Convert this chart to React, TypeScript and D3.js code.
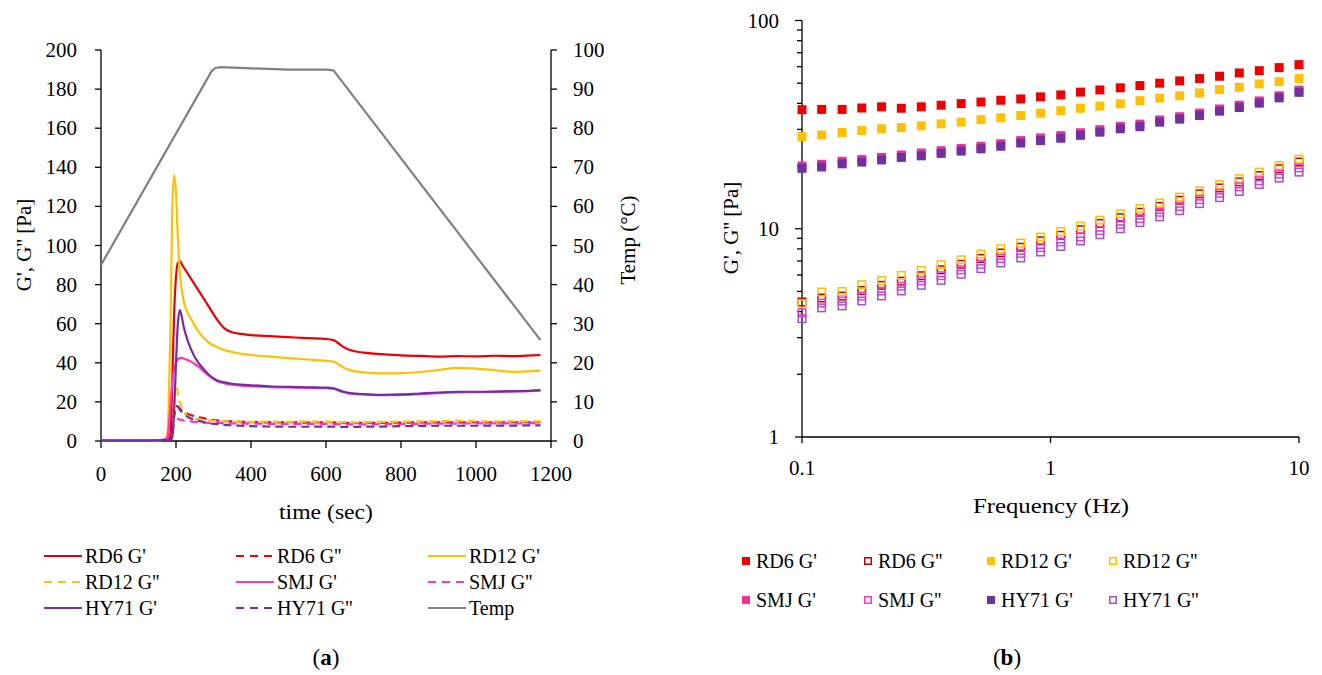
import React from 'react'
import * as d3 from 'd3'

// ---- (a) temperature sweep ----
const times = [0, 50, 100, 150, 165, 175, 180, 185, 190, 195, 200, 205, 210, 215, 220, 230, 240, 250, 260, 275, 290, 310, 330, 350, 375, 400, 450, 500, 550, 600, 620, 630, 645, 660, 680, 700, 750, 800, 850, 900, 950, 1000, 1050, 1100, 1150, 1172]

const rd6G1 = [0.3, 0.3, 0.3, 0.4, 0.5, 0.6, 0.8, 2, 30, 65, 84, 91, 92, 90.6, 89, 86, 83, 80, 77, 72.5, 68, 62, 57.5, 55.6, 54.8, 54.2, 53.6, 53.1, 52.6, 52.2, 51.6, 50.4, 48.3, 46.8, 45.8, 45.2, 44.4, 43.8, 43.5, 43.2, 43.4, 43.3, 43.6, 43.4, 43.8, 44.0]
const rd12G1 = [0.2, 0.2, 0.2, 0.3, 0.6, 2, 15, 55, 118, 136, 127, 104, 87, 78, 72, 66, 62.5, 59, 56, 52.5, 50, 48, 46.5, 45.5, 44.6, 44, 43.2, 42.4, 41.7, 41, 40.6, 39.6, 37.8, 36.4, 35.6, 35.1, 34.6, 34.7, 35.3, 36.3, 37.4, 37, 36.2, 35.4, 35.7, 36]
const smjG1 = [0.3, 0.3, 0.3, 0.4, 0.6, 1.2, 5, 18, 30, 37, 40, 41.8, 42.4, 42.5, 42.2, 41.5, 40.6, 39.4, 38, 35.5, 33, 30.6, 29.5, 28.8, 28.3, 28, 27.6, 27.4, 27.2, 27, 26.8, 26.1, 25.1, 24.4, 24, 23.8, 23.4, 23.6, 24, 24.5, 24.9, 25, 25.1, 25.3, 25.6, 25.8]
const hy71G1 = [0.2, 0.2, 0.2, 0.3, 0.4, 0.5, 0.6, 0.8, 2, 15, 40, 60, 67, 64, 59, 52, 47, 43, 40, 36.5, 33.5, 31, 30, 29.3, 28.8, 28.5, 28, 27.7, 27.5, 27.3, 27, 26.3, 25.3, 24.6, 24.2, 24, 23.6, 23.8, 24.3, 24.8, 25.2, 25.2, 25.3, 25.5, 25.8, 26]
const rd6G2 = [0.1, 0.1, 0.1, 0.1, 0.2, 0.3, 0.4, 0.6, 8, 15, 18, 17.6, 16.6, 15.8, 15.1, 14, 13.2, 12.7, 12.2, 11.6, 11, 10.5, 10.2, 10, 9.8, 9.7, 9.5, 9.6, 9.4, 9.6, 9.5, 9.4, 9.3, 9.2, 9.2, 9.3, 9.3, 9.4, 9.5, 9.5, 9.5, 9.6, 9.5, 9.6, 9.6, 9.7]
const rd12G2 = [0.1, 0.1, 0.1, 0.2, 0.3, 0.8, 2, 5, 15, 28, 30, 24, 20, 17, 15, 13, 12, 11.5, 11.1, 10.8, 10.5, 10.3, 10.1, 10, 9.9, 9.8, 9.9, 9.8, 10, 9.9, 9.8, 9.7, 9.6, 9.5, 9.5, 9.6, 9.8, 9.9, 10, 10.1, 10.3, 10.2, 10, 10.1, 10, 10]
const smjG2 = [0.1, 0.1, 0.1, 0.2, 0.3, 0.8, 2, 7, 10.5, 11.2, 11.3, 11.2, 11, 10.8, 10.5, 10.2, 10, 9.8, 9.6, 9.4, 9.3, 9.2, 9.1, 9, 8.9, 8.9, 8.8, 8.8, 8.8, 8.8, 8.7, 8.6, 8.5, 8.5, 8.5, 8.5, 8.6, 8.7, 8.8, 8.9, 8.9, 9, 9, 9, 9.1, 9.1]
const hy71G2 = [0.1, 0.1, 0.1, 0.1, 0.2, 0.2, 0.2, 0.3, 2, 12, 17, 17.5, 16, 15, 14, 12.5, 11.5, 10.8, 10.3, 9.6, 9, 8.6, 8.2, 8, 7.8, 7.6, 7.4, 7.3, 7.3, 7.4, 7.4, 7.3, 7.2, 7.2, 7.2, 7.3, 7.4, 7.6, 7.7, 7.8, 7.8, 7.8, 7.9, 7.9, 8, 8]

const tempTimes = [0, 295, 305, 320, 400, 500, 600, 620, 1172]
const tempValues = [45, 94.6, 95.4, 95.6, 95.3, 95.0, 95.0, 94.8, 25.8]

const leftTicks = [0, 20, 40, 60, 80, 100, 120, 140, 160, 180, 200]
const tempTicks = [0, 10, 20, 30, 40, 50, 60, 70, 80, 90, 100]
const timeTicks = [0, 200, 400, 600, 800, 1000, 1200]

// ---- (b) frequency sweep ----
const freqs = [0.1, 0.12, 0.145, 0.174, 0.209, 0.251, 0.302, 0.363, 0.437, 0.525, 0.631, 0.759, 0.912, 1.1, 1.32, 1.58, 1.91, 2.29, 2.75, 3.31, 3.98, 4.79, 5.75, 6.92, 8.32, 10]

const fRd6G1 = [37.3, 37.4, 37.4, 38.0, 38.5, 37.9, 38.5, 39.2, 39.9, 40.6, 41.4, 42.0, 43.0, 43.9, 45.3, 46.4, 47.5, 48.7, 50.0, 51.3, 52.6, 54.0, 56.0, 57.4, 59.4, 61.4]
const fRd6G2 = [4.45, 4.65, 4.75, 5.05, 5.35, 5.6, 5.95, 6.35, 6.75, 7.2, 7.65, 8.15, 8.75, 9.3, 9.9, 10.6, 11.3, 12.0, 12.8, 13.7, 14.7, 15.7, 16.8, 18.0, 19.4, 20.9]
const fRd12G1 = [27.7, 28.2, 29.0, 29.6, 30.2, 30.6, 31.2, 31.9, 32.5, 33.4, 34.1, 35.0, 35.9, 36.9, 37.9, 38.8, 39.8, 41.2, 42.4, 43.5, 44.9, 46.6, 47.8, 49.6, 50.9, 52.6]
const fRd12G2 = [4.37, 4.97, 5.0, 5.39, 5.65, 5.97, 6.31, 6.72, 7.1, 7.56, 8.02, 8.54, 9.12, 9.7, 10.3, 11.0, 11.8, 12.5, 13.3, 14.2, 15.2, 16.3, 17.4, 18.7, 20.1, 21.6]
const fSmjG1 = [20.0, 20.4, 21.1, 21.5, 22.0, 22.6, 23.1, 23.7, 24.3, 24.9, 25.6, 26.5, 27.3, 28.0, 28.9, 29.9, 31.0, 31.8, 33.3, 34.5, 35.9, 37.6, 39.2, 41.1, 43.5, 46.3]
const fSmjG2 = [3.95, 4.4, 4.5, 4.75, 5.02, 5.3, 5.63, 5.95, 6.35, 6.75, 7.2, 7.62, 8.12, 8.65, 9.15, 9.8, 10.5, 11.2, 12.0, 12.8, 13.8, 14.8, 15.9, 17.0, 18.3, 19.6]
const fHy71G1 = [19.5, 19.8, 20.5, 20.9, 21.4, 22.0, 22.4, 23.0, 23.6, 24.2, 24.9, 25.8, 26.5, 27.2, 28.1, 29.1, 30.2, 30.9, 32.5, 33.6, 35.0, 36.7, 38.2, 40.1, 42.5, 45.2]
const fHy71G2 = [3.7, 4.17, 4.26, 4.5, 4.76, 5.03, 5.35, 5.65, 6.04, 6.43, 6.85, 7.24, 7.73, 8.22, 8.73, 9.36, 10.0, 10.7, 11.4, 12.2, 13.2, 14.1, 15.1, 16.3, 17.5, 18.7]

const RED = '#EE0000'
const DARKRED = '#C00000'
const ORANGE = '#FFC000'
const PINK = '#FF33CC'
const PINK2 = '#E8329A'
const PURPLE = '#7030A0'
const PURPLE2 = '#A050D0'
const GREY = '#808080'

const lineSeries = [
  { name: "RD6 G'", values: rd6G1, color: RED, dash: false },
  { name: "RD6 G''", values: rd6G2, color: RED, dash: true },
  { name: "RD12 G'", values: rd12G1, color: ORANGE, dash: false },
  { name: "RD12 G''", values: rd12G2, color: ORANGE, dash: true },
  { name: "SMJ G'", values: smjG1, color: PINK, dash: false },
  { name: "SMJ G''", values: smjG2, color: PINK, dash: true },
  { name: "HY71 G'", values: hy71G1, color: PURPLE, dash: false },
  { name: "HY71 G''", values: hy71G2, color: PURPLE, dash: true },
]

const squareSeries = [
  { name: "RD6 G'", values: fRd6G1, color: RED, filled: true },
  { name: "RD6 G''", values: fRd6G2, color: DARKRED, filled: false },
  { name: "RD12 G'", values: fRd12G1, color: ORANGE, filled: true },
  { name: "RD12 G''", values: fRd12G2, color: ORANGE, filled: false },
  { name: "SMJ G'", values: fSmjG1, color: PINK2, filled: true },
  { name: "SMJ G''", values: fSmjG2, color: PINK, filled: false },
  { name: "HY71 G'", values: fHy71G1, color: PURPLE, filled: true },
  { name: "HY71 G''", values: fHy71G2, color: PURPLE2, filled: false },
]

const FONT = '"Liberation Serif", "Times New Roman", serif'
const DASH = '8,5'
const TICK_FS = 21
const LEGEND_FS = 20

function LeftChart() {
  const x = d3.scaleLinear().domain([0, 1200]).range([101, 551])
  const y = d3.scaleLinear().domain([0, 200]).range([441, 50])
  const yT = d3.scaleLinear().domain([0, 100]).range([441, 50])

  const line = d3.line<number>()
    .x((d, i) => x(times[i]))
    .y(d => y(d))
    .curve(d3.curveMonotoneX)

  // temperature program is piecewise linear
  const tempLine = d3.line<number>()
    .x((d, i) => x(tempTimes[i]))
    .y(d => yT(d))

  const legendCols = [44, 236, 428]
  const legendRows = [556, 582, 608]
  const legendItems = [...lineSeries, { name: 'Temp', values: [], color: GREY, dash: false }]

  return (
    <g fontFamily={FONT} fill="#000">
      {/* axes */}
      <line x1={101} x2={101} y1={50} y2={441} stroke="#000" strokeWidth={1.3} />
      <line x1={551} x2={551} y1={50} y2={441} stroke="#000" strokeWidth={1.3} />
      <line x1={101} x2={551} y1={441} y2={441} stroke="#000" strokeWidth={1.3} />
      {leftTicks.map(t => (
        <g key={'l' + t}>
          <line x1={95} x2={101} y1={y(t)} y2={y(t)} stroke="#000" strokeWidth={1.3} />
          <text x={77} y={y(t)} textAnchor="end" dominantBaseline="central" fontSize={TICK_FS}>{t}</text>
        </g>
      ))}
      {tempTicks.map(t => (
        <g key={'r' + t}>
          <line x1={551} x2={557} y1={yT(t)} y2={yT(t)} stroke="#000" strokeWidth={1.3} />
          <text x={573} y={yT(t)} textAnchor="start" dominantBaseline="central" fontSize={TICK_FS}>{t}</text>
        </g>
      ))}
      {timeTicks.map(t => (
        <g key={'x' + t}>
          <line x1={x(t)} x2={x(t)} y1={441} y2={448} stroke="#000" strokeWidth={1.3} />
          <text x={x(t)} y={474} textAnchor="middle" dominantBaseline="central" fontSize={TICK_FS}>{t}</text>
        </g>
      ))}
      <text x={326} y={512} textAnchor="middle" dominantBaseline="central" fontSize={21} textLength={94} lengthAdjust="spacingAndGlyphs">time (sec)</text>
      <text transform="translate(24,245) rotate(-90)" textAnchor="middle" dominantBaseline="central" fontSize={21}>G', G'' [Pa]</text>
      <text transform="translate(628,240) rotate(-90)" textAnchor="middle" dominantBaseline="central" fontSize={21}>Temp (°C)</text>

      {/* data */}
      <path d={tempLine(tempValues) || ''} fill="none" stroke={GREY} strokeWidth={2.2} strokeLinejoin="round" />
      {lineSeries.filter(s => s.dash).map(s => (
        <path key={s.name} d={line(s.values) || ''} fill="none" stroke={s.color} strokeWidth={2.2} strokeDasharray={DASH} />
      ))}
      {lineSeries.filter(s => !s.dash).map(s => (
        <path key={s.name} d={line(s.values) || ''} fill="none" stroke={s.color} strokeWidth={2.2} />
      ))}

      {/* legend */}
      {legendItems.map((s, i) => {
        const lx = legendCols[i % 3]
        const ly = legendRows[Math.floor(i / 3)]
        return (
          <g key={'lg' + i}>
            <line x1={lx} x2={lx + 38} y1={ly} y2={ly} stroke={s.color} strokeWidth={2.2} strokeDasharray={s.dash ? '8,6' : undefined} />
            <text x={lx + 41} y={ly} dominantBaseline="central" fontSize={LEGEND_FS}>{s.name}</text>
          </g>
        )
      })}

      <text x={326} y={657} textAnchor="middle" dominantBaseline="central" fontSize={23}>
        (<tspan fontWeight="bold">a</tspan>)
      </text>
    </g>
  )
}

function RightChart() {
  const x = d3.scaleLog().domain([0.1, 10]).range([802, 1299])
  const y = d3.scaleLog().domain([1, 100]).range([437, 20.5])

  const majors = [1, 10, 100]
  const minors: number[] = []
  ;[1, 10].forEach(base => [2, 3, 4, 5, 6, 7, 8, 9].forEach(m => minors.push(base * m)))
  const xMajors = [0.1, 1, 10]

  const S = 9
  const legendCols = [742, 864, 987, 1109]
  const legendRows = [561, 600]

  return (
    <g fontFamily={FONT} fill="#000">
      <line x1={802} x2={802} y1={20.5} y2={437} stroke="#000" strokeWidth={1.3} />
      <line x1={802} x2={1299} y1={437} y2={437} stroke="#000" strokeWidth={1.3} />
      {majors.map(t => (
        <g key={'m' + t}>
          <line x1={795} x2={802} y1={y(t)} y2={y(t)} stroke="#000" strokeWidth={1.3} />
          <text x={779} y={y(t)} textAnchor="end" dominantBaseline="central" fontSize={TICK_FS}>{t}</text>
        </g>
      ))}
      {minors.map(t => (
        <line key={'n' + t} x1={797} x2={802} y1={y(t)} y2={y(t)} stroke="#000" strokeWidth={1.3} />
      ))}
      {xMajors.map(t => (
        <g key={'x' + t}>
          <line x1={x(t)} x2={x(t)} y1={437} y2={443} stroke="#000" strokeWidth={1.3} />
          <text x={x(t)} y={468} textAnchor="middle" dominantBaseline="central" fontSize={TICK_FS}>{t}</text>
        </g>
      ))}
      <text x={1051} y={506} textAnchor="middle" dominantBaseline="central" fontSize={21} textLength={156} lengthAdjust="spacingAndGlyphs">Frequency (Hz)</text>
      <text transform="translate(731,228) rotate(-90)" textAnchor="middle" dominantBaseline="central" fontSize={21}>G', G'' [Pa]</text>

      {squareSeries.map(s => (
        <g key={s.name}>
          {s.values.map((v, i) => s.filled ? (
            <rect key={i} x={x(freqs[i]) - S / 2} y={y(v) - S / 2} width={S} height={S} fill={s.color} />
          ) : (
            <rect key={i} x={x(freqs[i]) - S / 2 + 0.75} y={y(v) - S / 2 + 0.75} width={S - 1.5} height={S - 1.5} fill="none" stroke={s.color} strokeWidth={1.5} />
          ))}
        </g>
      ))}

      {squareSeries.map((s, i) => {
        const lx = legendCols[i % 4]
        const ly = legendRows[Math.floor(i / 4)]
        return (
          <g key={'lg' + i}>
            {s.filled
              ? <rect x={lx} y={ly - 4} width={8} height={8} fill={s.color} />
              : <rect x={lx + 0.75} y={ly - 3.25} width={6.5} height={6.5} fill="none" stroke={s.color} strokeWidth={1.5} />}
            <text x={lx + 14} y={ly} dominantBaseline="central" fontSize={LEGEND_FS}>{s.name}</text>
          </g>
        )
      })}

      <text x={1007} y={657} textAnchor="middle" dominantBaseline="central" fontSize={23}>
        (<tspan fontWeight="bold">b</tspan>)
      </text>
    </g>
  )
}

export default function App() {
  return (
    <svg width={1322} height={675} style={{ position: 'absolute', left: 0, top: 0, background: '#fff' }}>
      <rect width={1322} height={675} fill="#fff" />
      <LeftChart />
      <RightChart />
    </svg>
  )
}
